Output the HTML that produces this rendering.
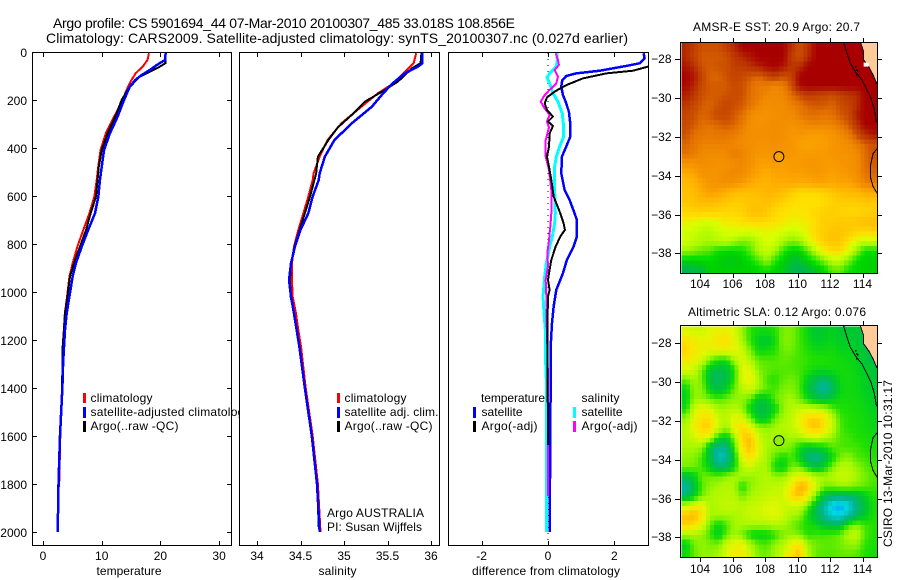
<!DOCTYPE html>
<html lang="en">
<head>
<meta charset="utf-8">
<title>Argo profile 5901694_44</title>
<style>
html,body{margin:0;padding:0;background:#fff;}
svg{display:block;}
text{font-family:"Liberation Sans",sans-serif;font-size:12px;fill:#000;}
.ttl{font-size:14px;}
.box{fill:none;stroke:#000;stroke-width:1;shape-rendering:crispEdges;}
</style>
</head>
<body>
<svg id="chart" xmlns="http://www.w3.org/2000/svg" width="900" height="580" viewBox="0 0 900 580">
  <rect x="0" y="0" width="900" height="580" fill="#fff"/>
  <defs>
    <clipPath id="clip-diff"><rect x="449" y="53" width="199" height="492"/></clipPath>
    <clipPath id="clip-sst"><rect x="681" y="43" width="196" height="230"/></clipPath>
    <clipPath id="clip-sla"><rect x="681" y="326" width="196" height="231"/></clipPath>
  </defs>

  <text class="ttl" x="53" y="28" textLength="462" lengthAdjust="spacing">Argo profile: CS 5901694_44 07-Mar-2010 20100307_485 33.018S 108.856E</text>
  <text class="ttl" x="46" y="43" textLength="582" lengthAdjust="spacing">Climatology: CARS2009. Satellite-adjusted climatology: synTS_20100307.nc (0.027d earlier)</text>

  <g id="panel-temp">
    <g id="temp-series"></g>
    <g id="temp-axis"></g>
    <rect class="box" x="32.5" y="52.5" width="199" height="493"/>
    <rect x="83" y="393" width="3" height="10" fill="#f00"/>
    <text x="90.5" y="402" textLength="62" lengthAdjust="spacing">climatology</text>
    <rect x="83" y="407" width="3" height="11" fill="#00f"/>
    <text x="90.5" y="416" textLength="160" lengthAdjust="spacing">satellite-adjusted climatology</text>
    <rect x="83" y="421" width="3" height="11" fill="#000"/>
    <text x="90.5" y="430" textLength="88" lengthAdjust="spacing">Argo(..raw -QC)</text>
    <text x="129" y="575" text-anchor="middle" textLength="65" lengthAdjust="spacing">temperature</text>
  </g>

  <g id="panel-sal">
    <rect x="239" y="52" width="201" height="494" fill="#fff"/>
    <g id="sal-series"></g>
    <g id="sal-axis"></g>
    <rect class="box" x="239.5" y="52.5" width="200" height="493"/>
    <rect x="337" y="393" width="3" height="10" fill="#f00"/>
    <text x="344.5" y="402" textLength="62" lengthAdjust="spacing">climatology</text>
    <rect x="337" y="407" width="3" height="11" fill="#00f"/>
    <text x="344.5" y="416" textLength="94" lengthAdjust="spacing">satellite adj. clim.</text>
    <rect x="337" y="421" width="3" height="11" fill="#000"/>
    <text x="344.5" y="430" textLength="88" lengthAdjust="spacing">Argo(..raw -QC)</text>
    <text x="327" y="517" textLength="97" lengthAdjust="spacing">Argo AUSTRALIA</text>
    <text x="327" y="531" textLength="95" lengthAdjust="spacing">PI: Susan Wijffels</text>
    <text x="337.5" y="575" text-anchor="middle" textLength="38" lengthAdjust="spacing">salinity</text>
  </g>

  <g id="panel-diff">
    <g id="diff-series" clip-path="url(#clip-diff)"></g>
    <g id="diff-axis"></g>
    <rect class="box" x="448.5" y="52.5" width="200" height="493"/>
    <text x="481" y="402" textLength="64" lengthAdjust="spacing">temperature</text>
    <rect x="473" y="407" width="3" height="11" fill="#00f"/>
    <text x="481.5" y="416" textLength="41" lengthAdjust="spacing">satellite</text>
    <rect x="473" y="421" width="3" height="11" fill="#000"/>
    <text x="481.5" y="430" textLength="56" lengthAdjust="spacing">Argo(-adj)</text>
    <text x="581.5" y="402" textLength="38" lengthAdjust="spacing">salinity</text>
    <rect x="573" y="407" width="3" height="11" fill="#0ff"/>
    <text x="581.5" y="416" textLength="41" lengthAdjust="spacing">satellite</text>
    <rect x="573" y="421" width="3" height="11" fill="#f0f"/>
    <text x="581.5" y="430" textLength="56" lengthAdjust="spacing">Argo(-adj)</text>
    <text x="546" y="575" text-anchor="middle" textLength="148" lengthAdjust="spacing">difference from climatology</text>
  </g>

  <g id="map-sst">
    <text x="693" y="31" textLength="167" lengthAdjust="spacing">AMSR-E SST: 20.9 Argo: 20.7</text>
    <g id="sst-cells" clip-path="url(#clip-sst)"></g>
    <g id="sst-over" clip-path="url(#clip-sst)"></g>
    <rect class="box" x="680.5" y="42.5" width="197" height="231"/>
    <g id="sst-axis"></g>
  </g>

  <g id="map-sla">
    <text x="688" y="316" textLength="178" lengthAdjust="spacing">Altimetric SLA: 0.12 Argo: 0.076</text>
    <g id="sla-cells" clip-path="url(#clip-sla)"></g>
    <g id="sla-over" clip-path="url(#clip-sla)"></g>
    <rect class="box" x="680.5" y="325.5" width="197" height="232"/>
    <g id="sla-axis"></g>
  </g>

  <text transform="translate(892,547) rotate(-90)" x="0" y="0" textLength="167" lengthAdjust="spacing">CSIRO 13-Mar-2010 10:31:17</text>
</svg>

<script>
// ---- profile data ----
var depthTicks = [0,200,400,600,800,1000,1200,1400,1600,1800,2000];
var tempTicks = [0,10,20,30];
var salTicks = [34,34.5,35,35.5,36];
var diffTicks = [-2,0,2];
var lonTicks = [104,106,108,110,112,114];
var latTicks = [-28,-30,-32,-34,-36,-38];

var tempClimDepth = [5,33,61,88,124,165,200,270,339,408,479,533,602,672,741,811,880,936,1019,1089,1158,1228,1400,1600,1810];
var tempClimValue = [18.05,17.8,17,15.8,14.9,14.1,13.6,12.1,10.7,9.8,9.4,9.15,8.75,7.9,6.87,5.85,5.05,4.5,4.1,3.72,3.55,3.35,3.3,2.95,2.75];
var tempSatDepth = [0,33,54,75,96,117,144,172,200,270,339,408,479,533,602,672,741,811,880,936,1019,1089,1158,1228,1300,1400,1600,1800,2000];
var tempSatValue = [20.9,20.8,19.4,18.2,16.8,15.7,14.8,14.3,13.8,12.7,11.4,10.4,10,9.7,9.43,8.86,7.7,6.6,5.6,5.05,4.5,4.03,3.75,3.58,3.42,3.3,2.9,2.65,2.5];
var tempArgoDepth = [0,46,61,82,103,130,158,200,270,339,408,479,533,602,672,741,811,880,936,1019,1089,1158,1228,1400,1600,1800,1950];
var tempArgoValue = [20.9,20.9,19.9,18.2,16.5,15.4,14.4,13.4,12.3,11,10,9.5,9.3,9.03,8.12,7.33,6.3,5.28,4.6,4.15,3.75,3.58,3.35,3.25,2.85,2.6,2.5];

var salClimDepth = [5,47,68,89,130,172,228,297,367,436,506,533,602,672,741,811,880,950,1019,1089,1158,1228,1400,1600,1800,2000];
var salClimValue = [35.83,35.8,35.74,35.68,35.57,35.39,35.2,34.97,34.81,34.72,34.65,34.64,34.59,34.533,34.475,34.425,34.402,34.402,34.41,34.448,34.475,34.506,34.56,34.64,34.7,34.73];
var salSatDepth = [5,47,61,89,130,172,228,297,367,436,506,533,602,672,741,811,880,950,1019,1089,1158,1228,1400,1600,1800,2000];
var salSatValue = [35.9,35.9,35.85,35.7,35.56,35.45,35.32,35.09,34.89,34.78,34.72,34.71,34.64,34.59,34.5,34.436,34.391,34.368,34.391,34.425,34.456,34.487,34.55,34.63,34.69,34.72];
var salArgoDepth = [5,47,68,96,123,158,207,262,314,367,436,506,533,602,672,741,811,846,880,950,1019,1089,1158,1228,1400,1600,1800,1980];
var salArgoValue = [35.89,35.88,35.78,35.7,35.62,35.47,35.24,35.09,34.93,34.82,34.7,34.68,34.66,34.61,34.55,34.49,34.43,34.41,34.39,34.38,34.386,34.425,34.46,34.49,34.55,34.63,34.69,34.71];

var diffTempSatDepth = [5,26,47,58,78,89,100,117,144,179,207,249,297,353,394,436,506,575,616,672,700,769,811,866,922,991,1061,1130,1228,1367,2000];
var diffTempSatValue = [2.88,2.91,2.76,2.36,1.56,0.85,0.55,0.43,0.4,0.45,0.53,0.63,0.67,0.67,0.55,0.42,0.4,0.5,0.65,0.8,0.87,0.87,0.77,0.57,0.45,0.25,0.17,0.12,0.08,0.08,0.05];
var diffTempArgoDepth = [0,50,61,78,89,110,138,165,189,214,242,269,290,308,339,394,436,478,533,602,637,672,714,741,769,811,866,922,950,991,1019,1158,1638];
var diffTempArgoValue = [3.4,3.4,3.01,2.56,1.76,1.05,0.55,0.2,-0.03,-0.1,-0.03,0.15,0,0.15,0.05,0.03,-0.03,0.03,0.1,0.17,0.27,0.37,0.47,0.51,0.37,0.23,0.1,0.03,0,0.05,0,-0.02,0];
var diffSalSatDepth = [5,33,61,89,106,138,172,207,256,311,353,394,436,478,575,672,714,769,811,880,936,1019,1089,1158,1297,1367,2000];
var diffSalSatValue = [0.27,0.28,0.25,0.05,-0.03,0.07,0.15,0.3,0.43,0.47,0.47,0.35,0.25,0.2,0.2,0.22,0.2,0.13,0.05,-0.05,-0.1,-0.15,-0.12,-0.08,-0.07,-0.05,-0.05];
var diffSalArgoDepth = [5,33,54,75,103,131,158,179,207,235,262,290,314,367,436,492,575,672,727,783,838,894,950,1019,1089,1228,1367,1850];
var diffSalArgoValue = [0.23,0.3,0.33,0.2,0.3,0.25,0.05,-0.1,-0.22,-0.1,0.05,-0.03,0.03,-0.07,-0.07,0.03,0.1,0.1,0.07,0.03,-0.02,0,-0.07,-0.05,-0.05,-0.02,0,0];

// ---- map data: 0.5 degree cells, north to south, west to east ----
var sstRows = [
[22.6,22.3,22,22,22,22.3,22.6,23,23,23,23,23,23,22.5,22,22.4,23,23,23,23,23,23,23,23],
[22.6,22.2,21.9,21.9,21.9,22,22.4,22.6,22.8,23,23,23,23,22.3,22,22.5,23,23,23,23,23,23,23,23],
[22.8,22.5,22,21.9,22,22,22.3,22.3,22.5,22.7,22.9,23,22.8,22.4,22.5,23,23,23,23,23,23,23,23,23],
[23,22.8,22.2,21.8,21.8,22,22.2,22.1,21.9,21.8,22.1,22.3,22,22.2,23,23,23,23,23,23,23,23,23,23],
[22.9,22.6,22.1,21.9,21.9,21.9,22.1,22,21.7,21.5,21.5,21.3,21.5,22,22.9,23,23,23,23,23,23,23,23,23],
[22.7,22.4,22,21.9,21.9,22,22.1,22,21.7,21.5,21.3,21.2,21.3,21.7,22,22.3,22.2,22.1,22,22.2,22.4,22.5,23,23],
[22.4,22.1,21.9,21.8,22,22.2,22,21.9,21.6,21.3,21.1,21.2,21.2,21.4,21.6,21.8,21.9,21.9,21.8,22,22.2,22.5,23,23],
[22.2,22,21.8,21.9,22.1,22.1,21.9,21.7,21.2,21,21,21.1,21.2,21.2,21.5,21.7,21.7,21.6,21.7,21.9,22.1,22.7,23,23],
[22.1,21.9,21.7,21.7,21.8,21.9,21.8,21.5,21.1,21,21.1,21.2,21.1,21,21.1,21.3,21.4,21.3,21.4,21.6,21.9,22.4,23,23],
[22,21.7,21.6,21.5,21.6,21.6,21.5,21.3,21.1,21.1,21.1,21.2,21.1,20.9,20.9,20.8,20.7,20.8,20.9,21.2,21.5,22,22.5,22.8],
[21.8,21.6,21.4,21.4,21.4,21.4,21.3,21.2,21.1,21,21,21.1,21,20.9,20.7,20.6,20.7,20.7,20.9,21,21.2,21.5,21.8,22],
[21.7,21.5,21.3,21.2,21.2,21.3,21.5,21.4,21.1,20.9,20.9,21,20.9,20.9,20.8,20.8,20.8,20.8,20.9,21,21,21.2,21.7,22],
[21,21,21.1,21.1,21,21,21.2,21.3,21,20.7,20.7,20.8,20.7,20.8,20.8,20.9,20.9,20.8,20.8,20.9,21,21.1,21.7,21.9],
[20.4,20.6,21,21,21,21.2,21.3,21.2,20.8,20.6,20.4,20.6,20.6,20.7,20.7,20.8,20.9,20.8,20.7,20.8,20.9,21.1,21.6,21.8],
[20,20.2,20.7,20.9,21,21.1,21,20.8,20.5,20.3,20.2,20.4,20.4,20.5,20.4,20.4,20.6,20.6,20.5,20.6,20.6,20.9,21.4,21.6],
[19.9,20,20.4,20.7,20.6,20.3,20,19.9,19.9,20,20.1,20.1,19.9,19.6,19.3,19.3,19.3,19.5,19.7,19.9,20,20.1,20.4,20.4],
[19.7,19.9,20,20,19.9,19.7,19.6,19.6,19.8,19.8,19.9,19.7,19.5,19.3,19.2,19.2,19.2,19.3,19.5,19.6,19.6,19.6,19.7,19.7],
[19.4,19.5,19.5,19.5,19.4,19.4,19.4,19.5,19.9,19.9,19.7,19.4,19.2,19.1,19.1,19.2,19.4,19.5,19.6,19.5,19.4,19.4,19.5,19.6],
[18.9,18.8,18.6,18.6,18.8,19,19,19.2,19.3,19.4,19.3,19.2,19,18.9,18.9,19,19.3,19.6,19.6,19.7,19.7,19.8,19.9,20],
[18.5,18.4,18.2,18.2,18.4,18.6,18.7,18.6,18.6,18.7,18.8,18.7,18.6,18.4,18.5,18.9,19.4,19.6,19.8,19.8,19.7,19.5,19.4,19.5],
[18.5,18.3,18.1,18,18.2,18.3,18,17.7,17.8,18.3,18.6,18.5,18,17.7,17.9,18.5,19.2,19.6,19.8,19.8,19.2,18.6,18.4,18.4],
[17.9,17.7,17.5,17.4,17,16.9,16.9,17,17.5,18.1,18.4,18,17.2,16.8,16.8,17.4,18.3,18.9,19.3,19.3,18.7,17.9,17,17],
[16.8,16.8,16.9,16.9,16.8,16.7,16.7,16.8,17,17.4,17.9,17.2,16.8,16.6,16.6,16.8,17.2,17.7,18.3,18.3,17.7,17,16.8,16.8],
[16.4,16.5,16.5,16.8,16.8,16.8,16.8,16.8,16.8,16.9,17,16.8,16.7,16.5,16.4,16.5,16.6,16.8,17.4,17.5,17,16.9,16.8,16.8]
];
var slaRows = [
[0.17,0.15,0.15,0.18,0.2,0.2,0.17,0.08,0,-0.02,-0.02,0,0.06,0.06,0.02,-0.03,-0.08,-0.06,-0.04,-0.08,-0.08,-0.08,-0.1,-0.1],
[0.25,0.22,0.2,0.2,0.24,0.25,0.19,0.1,0,-0.06,-0.08,-0.02,0.07,0.06,0.02,-0.02,-0.06,-0.05,-0.04,-0.06,-0.06,-0.08,-0.1,-0.1],
[0.27,0.23,0.2,0.19,0.2,0.2,0.19,0.15,0.05,-0.03,-0.02,0,0.05,0.05,0.02,0,-0.03,-0.03,-0.02,-0.04,-0.04,-0.06,-0.1,-0.1],
[0.23,0.2,0.15,0.05,-0.02,-0.02,0.1,0.18,0.1,0.04,0.03,0.03,0.04,0.03,0.02,0.01,0,0,-0.01,-0.02,-0.03,-0.04,-0.08,-0.1],
[0.17,0.15,0.05,-0.08,-0.12,-0.1,0,0.18,0.18,0.06,0.04,0.03,0.03,0.03,0.02,0,-0.03,-0.03,-0.02,-0.02,-0.02,-0.04,-0.06,-0.08],
[0.05,0.1,0.05,-0.1,-0.14,-0.1,0,0.18,0.2,0.1,0.02,0,0.04,0.05,0.03,-0.05,-0.12,-0.16,-0.1,-0.03,-0.02,-0.03,-0.05,-0.08],
[-0.04,0.08,0.07,-0.05,-0.1,-0.05,0.05,0.12,0.15,0.08,0.04,0.02,0.06,0.07,0.03,-0.08,-0.16,-0.22,-0.14,-0.04,-0.02,-0.03,-0.05,-0.07],
[-0.05,0.08,0.08,0.05,0.03,0.05,0.08,0.08,0.03,-0.08,-0.06,0.04,0.08,0.1,0.05,-0.02,-0.08,-0.1,-0.06,-0.02,-0.02,-0.02,-0.04,-0.06],
[-0.02,0.15,0.2,0.18,0.1,0.1,0.12,0.08,-0.05,-0.11,-0.1,-0.04,0.08,0.12,0.14,0.15,0.14,0.12,0.04,0,-0.01,-0.02,-0.03,-0.05],
[0.08,0.18,0.25,0.25,0.15,0.12,0.2,0.17,0.05,-0.08,-0.06,0.05,0.1,0.13,0.2,0.27,0.28,0.25,0.14,0.02,0,-0.01,-0.02,-0.04],
[0.12,0.2,0.28,0.27,0.15,0.08,0.2,0.27,0.2,0.1,0.08,0.1,0.12,0.14,0.18,0.26,0.3,0.24,0.15,0.03,0,-0.01,-0.02,-0.03],
[0.12,0.15,0.2,0.15,-0.03,-0.07,0.08,0.27,0.3,0.15,0.1,0.1,0.08,0.1,0.1,0.14,0.15,0.12,0.08,0.03,0.02,0,-0.01,-0.02],
[0.1,0.1,0.08,-0.1,-0.2,-0.18,0.02,0.25,0.3,0.18,0.1,0.08,0.08,0.05,-0.02,-0.08,-0.05,-0.03,0.03,0.03,0.02,0.02,0,-0.01],
[0.08,0.07,0.02,-0.1,-0.25,-0.22,-0.05,0.2,0.25,0.15,0.1,0.03,-0.02,0.03,-0.05,-0.15,-0.2,-0.14,-0.03,0.05,0.08,0.03,0.02,0],
[0.06,0.05,0.02,-0.06,-0.15,-0.12,-0.02,0.12,0.15,0.1,0.1,-0.02,-0.05,0.05,0.05,-0.03,-0.1,-0.04,0.05,0.12,0.12,0.08,0.04,0.02],
[-0.1,-0.05,0.05,0.05,0.05,0.08,0.1,0.1,0.08,0.1,0.12,0.08,0.08,0.15,0.2,0.18,0.12,0.1,0.12,0.15,0.14,0.1,0.06,0.03],
[-0.22,-0.1,0.03,0.08,0.1,0.12,0.1,-0.02,0.08,0.1,0.12,0.13,0.15,0.22,0.33,0.3,0.15,0.06,0.06,0.08,0.08,0.06,0.04,0.02],
[-0.15,-0.05,0.05,0.1,0.12,0.12,0.12,0.05,0.1,0.12,0.14,0.15,0.15,0.26,0.3,0.22,0.05,-0.1,-0.14,-0.15,-0.14,-0.12,-0.06,0],
[0.15,0.2,0.22,0.1,0.12,0.14,0.14,0.12,0.14,0.15,0.17,0.18,0.15,0.15,0.15,0.05,-0.1,-0.22,-0.33,-0.4,-0.3,-0.18,-0.1,-0.02],
[0.3,0.32,0.25,0.1,0.1,0.1,0.1,0.12,0.15,0.15,0.17,0.18,0.15,0.1,0.08,-0.02,-0.12,-0.2,-0.28,-0.3,-0.22,-0.14,-0.07,-0.01],
[0.27,0.25,0.18,0.04,-0.04,0.02,0.1,0.1,0.1,0.1,0.1,0.12,0.1,0.06,0.02,-0.01,-0.03,-0.08,-0.1,-0.1,0.02,0.08,0.02,0],
[0.1,0.1,0.08,0.02,-0.06,0.04,0.1,0.05,-0.03,-0.05,-0.04,0,0.06,0.08,0.06,0,0.02,0.02,0.03,0.05,0.12,0.14,0.03,0],
[-0.05,0.05,0.08,0.06,0.06,0.15,0.2,0.2,0.1,0.04,0.03,0.08,0.12,0.2,0.25,0.1,0.05,0.04,0.04,0.05,0.08,0.08,0.01,-0.01],
[-0.03,0.04,0.08,0.08,0.1,0.17,0.22,0.22,0.14,0.06,0.05,0.1,0.15,0.25,0.3,0.12,0.04,0.03,0.03,0.04,0.04,0.03,0,-0.02]
];
var floatLon = 108.856;
var floatLat = -33.018;
var argoSst = 20.7;
var argoSla = 0.076;
var cellOriginLon = 102.875;
var cellOriginLat = -27.125;
var cellDegrees = 0.5;

// ---- coastline (lon, lat) ----
var coastNorthLon = [112.84,113.05,113.25,113.56,113.97,114.28,114.52,114.73,114.85,115];
var coastNorthLat = [-27.1,-27.7,-28.2,-28.64,-29.07,-29.58,-30,-30.6,-31.2,-31.3];
var coastSouthLon = [114.93,114.65,114.48,114.48,114.65,114.93];
var coastSouthLat = [-32.59,-32.85,-33.53,-34.05,-34.56,-34.94];
var landLon = [113.87,114.07,114.07,114.38,114.65,114.89,115.2,115.2];
var landLat = [-27.1,-27.6,-28.03,-28.38,-28.8,-29.27,-29.27,-27.1];
var reefLon = [113.55,113.6,113.68,113.62];
var reefLat = [-28.35,-28.5,-28.55,-28.75];

// ---- axis functions ----
function depthY(d){ return 52 + 0.24 * d; }
function tempX(v){ return 43 + 5.87 * v; }
function salX(v){ return 257 + 87 * (v - 34); }
function diffX(v){ return 548 + 33.2 * v; }
function lonX(v){ return 700 + 16.25 * (v - 104); }
function sstLatY(v){ return 59.3 + 19.4 * (-28 - v); }
function slaLatY(v){ return 343.3 + 19.4 * (-28 - v); }

var sstStops = [[16.4,0,176,96],[16.8,0,208,0],[17,0,224,0],[17.5,96,236,0],[18,168,248,0],[18.6,216,255,0],[19.2,255,224,0],[19.8,255,196,0],[20.4,255,172,0],[20.9,246,150,0],[21.3,240,136,0],[21.7,226,112,0],[22,204,80,0],[22.5,184,48,0],[23,168,0,0]];
var slaStops = [[-0.4,0,160,255],[-0.3,0,216,224],[-0.2,0,180,152],[-0.1,0,192,64],[-0.05,0,208,32],[0,32,224,0],[0.05,112,238,0],[0.1,168,248,0],[0.18,224,248,0],[0.25,255,224,0],[0.3,255,192,0],[0.35,255,168,0]];

function colourFor(stops, v){
  if (v <= stops[0][0]) return 'rgb(' + stops[0].slice(1).join(',') + ')';
  for (var i = 1; i < stops.length; i++) {
    if (v <= stops[i][0]) {
      var a = stops[i-1], b = stops[i], t = (v - a[0]) / (b[0] - a[0]);
      return 'rgb(' + Math.round(a[1]+(b[1]-a[1])*t) + ',' + Math.round(a[2]+(b[2]-a[2])*t) + ',' + Math.round(a[3]+(b[3]-a[3])*t) + ')';
    }
  }
  return 'rgb(' + stops[stops.length-1].slice(1).join(',') + ')';
}

var NS = 'http://www.w3.org/2000/svg';
function make(tag, parentId, attrs){
  var n = document.createElementNS(NS, tag);
  for (var k in attrs) n.setAttribute(k, attrs[k]);
  document.getElementById(parentId).appendChild(n);
  return n;
}
function pointsOf(xs, ys, fx, fy){
  var p = [];
  for (var i = 0; i < xs.length; i++) p.push(fx(xs[i]).toFixed(2) + ',' + fy(ys[i]).toFixed(2));
  return p.join(' ');
}

function drawProfile(parentId, name, values, depths, xFn, colour, width){
  var line = make('polyline', parentId, {points: pointsOf(values, depths, xFn, depthY), fill:'none', stroke:colour, 'stroke-width':width, 'stroke-linejoin':'round', 'shape-rendering':'crispEdges'});
  
  
}
function drawLine(parentId, name, x1, y1, x2, y2){
  var t = make('line', parentId, {x1:x1, y1:y1, x2:x2, y2:y2, stroke:'#000', 'stroke-width':1, 'shape-rendering':'crispEdges'});
  
  
}
function drawLabel(parentId, name, x, y, anchor, str){
  var t = make('text', parentId, {x:x, y:y, 'text-anchor':anchor});
  
  
  t.textContent = str;
}

// ---- profiles ----
drawProfile('temp-series', 'temperature-climatology-line', tempClimValue, tempClimDepth, tempX, '#f00', 2);
drawProfile('temp-series', 'temperature-argo-line', tempArgoValue, tempArgoDepth, tempX, '#000', 2);
drawProfile('temp-series', 'temperature-satellite-line', tempSatValue, tempSatDepth, tempX, '#00f', 2.5);

drawProfile('sal-series', 'salinity-climatology-line', salClimValue, salClimDepth, salX, '#f00', 2);
drawProfile('sal-series', 'salinity-argo-line', salArgoValue, salArgoDepth, salX, '#000', 2);
drawProfile('sal-series', 'salinity-satellite-line', salSatValue, salSatDepth, salX, '#00f', 2.5);

var zeroLine = make('line', 'diff-series', {x1:diffX(0), y1:53, x2:diffX(0), y2:545, stroke:'#000', 'stroke-width':1, 'stroke-dasharray':'1 5', 'shape-rendering':'crispEdges'});


drawProfile('diff-series', 'difference-temperature-satellite-line', diffTempSatValue, diffTempSatDepth, diffX, '#00f', 2.5);
drawProfile('diff-series', 'difference-salinity-satellite-line', diffSalSatValue, diffSalSatDepth, diffX, '#0ff', 3);
drawProfile('diff-series', 'difference-salinity-argo-line', diffSalArgoValue, diffSalArgoDepth, diffX, '#f0f', 2);
drawProfile('diff-series', 'difference-temperature-argo-line', diffTempArgoValue, diffTempArgoDepth, diffX, '#000', 2);

// ---- profile axes ----
depthTicks.forEach(function(d){
  var y = Math.round(depthY(d)) + 0.5;
  drawLine('temp-axis', 'depth-tick-left', 32, y, 37, y);
  drawLine('temp-axis', 'depth-tick-right', 227, y, 232, y);
  drawLabel('temp-axis', 'depth-tick-label', 27, Math.round(depthY(d)) + 5, 'end', String(d));
});
function xAxis(parentId, prefix, ticks, fn){
  ticks.forEach(function(v){
    var x = Math.round(fn(v)) + 0.5;
    drawLine(parentId, prefix + '-tick-top', x, 52, x, 57);
    drawLine(parentId, prefix + '-tick-bottom', x, 541, x, 546);
    drawLabel(parentId, prefix + '-tick-label', fn(v), 560, 'middle', String(v));
  });
}
xAxis('temp-axis', 'temperature', tempTicks, tempX);
xAxis('sal-axis', 'salinity', salTicks, salX);
xAxis('diff-axis', 'difference', diffTicks, diffX);

// ---- maps ----
// Display resampling of the 0.5 degree grid onto quarter-degree pixels, as a plotting library's bilinear image shading would do.
function sampleGrid(rows, rowPos, colPos){
  var r0 = Math.max(0, Math.min(rows.length - 1, Math.floor(rowPos)));
  var r1 = Math.min(rows.length - 1, r0 + 1);
  var c0 = Math.max(0, Math.min(rows[0].length - 1, Math.floor(colPos)));
  var c1 = Math.min(rows[0].length - 1, c0 + 1);
  var fr = Math.max(0, Math.min(1, rowPos - r0));
  var fc = Math.max(0, Math.min(1, colPos - c0));
  var top = rows[r0][c0] * (1 - fc) + rows[r0][c1] * fc;
  var bottom = rows[r1][c0] * (1 - fc) + rows[r1][c1] * fc;
  return top * (1 - fr) + bottom * fr;
}
function drawCells(parentId, name, rows, stops, latY){
  var sub = cellDegrees / 2;
  for (var r = 0; r < rows.length * 2; r++) {
    for (var c = 0; c < rows[0].length * 2; c++) {
      var west = cellOriginLon + c * sub;
      var north = cellOriginLat - r * sub;
      var v = sampleGrid(rows, (r + 0.5) / 2 - 0.5, (c + 0.5) / 2 - 0.5);
      var x0 = lonX(west), x1 = lonX(west + sub);
      var y0 = latY(north), y1 = latY(north - sub);
      var cell = make('rect', parentId, {x:x0.toFixed(2), y:y0.toFixed(2), width:(x1-x0+0.4).toFixed(2), height:(y1-y0+0.4).toFixed(2), fill:colourFor(stops, v), 'shape-rendering':'crispEdges'});
      
      
    }
  }
}
drawCells('sst-cells', 'sst-cell', sstRows, sstStops, sstLatY);
drawCells('sla-cells', 'sla-cell', slaRows, slaStops, slaLatY);

function drawOverlay(parentId, axisId, prefix, latY, argoColour, labelBaseline, frameTop, frameBottom){
  var land = make('polygon', parentId, {points: pointsOf(landLon, landLat, lonX, latY), fill:'#ffcc99'});
  
  
  var shore = make('polyline', parentId, {points: pointsOf(landLon.slice(0,6), landLat.slice(0,6), lonX, latY), fill:'none', stroke:'#000', 'stroke-width':1, 'shape-rendering':'crispEdges'});
  
  
  var north = make('polyline', parentId, {points: pointsOf(coastNorthLon, coastNorthLat, lonX, latY), fill:'none', stroke:'#000', 'stroke-width':1, 'shape-rendering':'crispEdges'});
  
  
  var south = make('polyline', parentId, {points: pointsOf(coastSouthLon, coastSouthLat, lonX, latY), fill:'none', stroke:'#000', 'stroke-width':1, 'shape-rendering':'crispEdges'});
  
  
  reefLon.forEach(function(lon, i){
    var dot = make('rect', parentId, {x:Math.round(lonX(lon)), y:Math.round(latY(reefLat[i])), width:1.5, height:1.5, fill:'#000', 'shape-rendering':'crispEdges'});
    
    
  });
  var marker = make('circle', parentId, {cx:lonX(floatLon), cy:latY(floatLat), r:5, fill:argoColour, stroke:'#000', 'stroke-width':1});
  
  

  lonTicks.forEach(function(lon){
    var x = Math.round(lonX(lon)) + 0.5;
    drawLine(axisId, prefix + '-lon-tick-top', x, frameTop - 4, x, frameTop);
    drawLine(axisId, prefix + '-lon-tick-bottom', x, frameBottom, x, frameBottom + 4);
    drawLabel(axisId, prefix + '-lon-tick-label', lonX(lon), labelBaseline, 'middle', String(lon));
  });
  latTicks.forEach(function(lat){
    var y = Math.round(latY(lat)) + 0.5;
    drawLine(axisId, prefix + '-lat-tick-left', 675, y, 680, y);
    drawLine(axisId, prefix + '-lat-tick-right', 878, y, 882, y);
    drawLabel(axisId, prefix + '-lat-tick-label', 671.5, Math.round(latY(lat)) + 4, 'end', '\u2212' + Math.abs(lat));
  });
}
drawOverlay('sst-over', 'sst-axis', 'sst', sstLatY, colourFor(sstStops, argoSst), 288, 42, 274);
drawOverlay('sla-over', 'sla-axis', 'sla', slaLatY, colourFor(slaStops, argoSla), 573, 325, 558);

var gap = make('rect', 'sst-over', {x:lonX(114.07), y:sstLatY(-28.17), width:5, height:4, fill:'#fff'});


</script>
</body>
</html>
